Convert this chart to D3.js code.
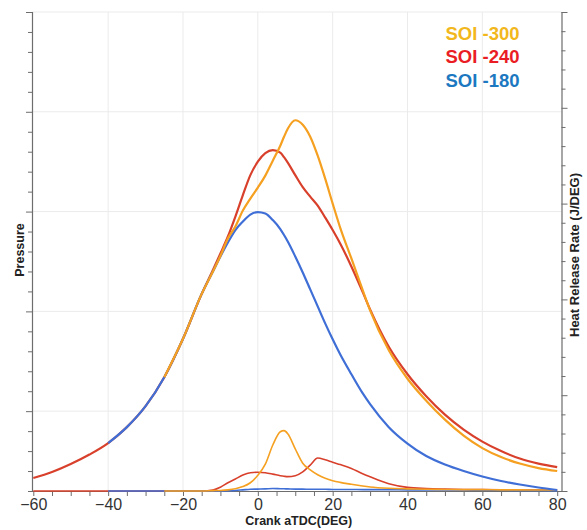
<!DOCTYPE html>
<html><head><meta charset="utf-8">
<script src="https://cdn.jsdelivr.net/npm/d3@7"></script>
<style>body{margin:0;background:#fff}svg{display:block}text{font-family:Arial,"Liberation Sans",sans-serif}</style>
</head><body><svg id="c" width="587" height="530"></svg>
<script>
// crank angle (deg aTDC)
const deg = [-60,-55,-50,-45,-40,-35,-30,-25,-20,-15,-12,-10,-8,-6,-4,-2,0,2,4,6,7,8,10,12,14,16,18,20,22,25,28,30,35,40,45,50,55,60,65,70,75,80];
// Pressure (left axis)
const pSOI300 = [null,null,null,null,null,null,null,26.8,34.5,43.5,48,51.1,54.6,57,60.2,62.6,64.8,67.2,70.2,73.2,75,76.6,78.3,77.4,75,71.2,66.6,61.6,56.8,50.6,44.3,40.2,32.2,26.5,22.1,18.3,15.1,12.6,10.8,9.5,8.6,8];
const pSOI240 = [6.6,7.8,9.4,11.3,13.6,16.8,21,26.8,34.5,43.5,48.3,51.6,55,59,63.3,67.3,70,71.7,72.3,71.8,70.9,69.8,67.3,64.9,63,61.2,58.8,56.3,53.6,49,43.9,40.4,32.9,27.4,23,19.3,16.3,13.9,12,10.5,9.5,8.8];
const pSOI180 = [null,null,null,null,13.6,16.8,21,26.8,34.5,43.5,48,51,53.8,56.3,58,59.4,59.9,59.6,58.3,56.5,55.3,54,51,47.8,44.4,41,37.6,34.4,31.4,27.4,23.6,21.4,16.8,13.5,11,9.3,8,6.9,6,5.3,4.7,4.2];
// Heat release rate (right axis)
const hSOI300 = [null,null,null,null,null,null,null,0,0,0,0.2,0.3,0.6,1.2,2.3,4.3,8.2,14,24,30.9,31.5,29.9,22,14.5,11,8.5,6.7,5.4,4.5,3.5,2.6,2.1,1.4,1.1,0.9,0.8,0.7,0.7,0.6,0.6,0.5,0.5];
const hSOI240 = [0,0,0,0,0,0,0,0,0,0,0.5,2,4.3,6.3,8.3,9.5,9.8,9.5,8.8,8,7.7,7.5,8,10,13.5,17.2,16.3,15,13.8,11.8,9,7.4,3.8,1.9,1.3,1,0.8,0.7,0.6,0.5,0.5,0.5];
const hSOI180 = [null,null,null,null,0,0,0,0,0,0,0,0,0.1,0.3,0.6,0.9,1,1.1,1.3,1.2,1.15,1.1,1,1,0.9,0.9,0.9,0.8,0.8,0.8,0.7,0.7,0.7,0.6,0.6,0.5,0.5,0.4,0.4,0.3,0.3,0.2];
const seriesNames = ["SOI -300","SOI -240","SOI -180"];
const legendColors = ["#f2b71c","#ea1d24","#1c78c0"];
const lineColors = {"SOI -300":"#f5a020","SOI -240":"#d8402c","SOI -180":"#3f6fd6"};
const xTicks = [-60,-40,-20,0,20,40,60,80];

const svg = d3.select("#c");
const L=32, R=561.5, T=12, B=491;
const x = d3.scaleLinear().domain([-60.35,81.15]).range([L,R]);
const yP = d3.scaleLinear().domain([4,100]).range([B,T]);
const yH = d3.scaleLinear().domain([0,250]).range([B,T]);

// grid
const g = svg.append("g");
g.selectAll(".vg").data([-40,-20,0,20,40,60]).enter().append("line")
 .attr("x1",d=>x(d)).attr("x2",d=>x(d)).attr("y1",T).attr("y2",B)
 .attr("stroke","#ebebeb").attr("stroke-width",1);
g.selectAll(".hg").data([20,40,60,80,100]).enter().append("line")
 .attr("x1",L).attr("x2",R).attr("y1",d=>yP(d)).attr("y2",d=>yP(d))
 .attr("stroke","#ebebeb").attr("stroke-width",1);

// axes
const axCol="#6d6d6d";
function styleAxis(sel){sel.select(".domain").attr("stroke",axCol).attr("stroke-width",1.2);sel.selectAll(".tick line").attr("stroke",axCol);}
const xMinor = d3.range(-60,81,5);
const xa = svg.append("g").attr("transform",`translate(0,${B})`)
 .call(d3.axisBottom(x).tickValues(xMinor).tickSize(5).tickSizeOuter(0)
 .tickFormat(d=>xTicks.includes(d)?d3.format("")(d):""));
styleAxis(xa);
xa.selectAll(".tick text").attr("font-size",16).attr("fill","#333").attr("dy","0.95em").attr("y",4);

const la = svg.append("g").attr("transform",`translate(${L},0)`)
 .call(d3.axisLeft(yP).tickValues(d3.range(4,101,4)).tickSizeOuter(0)
 .tickSize(4).tickFormat(""));
styleAxis(la);
la.selectAll(".tick line").attr("x2",d=>d%20===0?-6:-4);

const ra = svg.append("g").attr("transform",`translate(${R},0)`)
 .call(d3.axisRight(yH).tickValues(d3.range(0,251,10)).tickSizeOuter(0)
 .tickSize(4).tickFormat(""));
styleAxis(ra);
ra.selectAll(".tick line").attr("x2",d=>d%50===0?6:4);

// lines
const clip = svg.append("clipPath").attr("id","pc").append("rect")
 .attr("x",L).attr("y",T).attr("width",R-L).attr("height",B-T+1);
const plot = svg.append("g").attr("clip-path","url(#pc)");
function draw(vals, scale, color, w){
  const data = deg.map((d,i)=>[d,vals[i]]).filter(p=>p[1]!==null);
  const line = d3.line().x(p=>x(p[0])).y(p=>scale(p[1])).curve(d3.curveMonotoneX);
  plot.append("path").datum(data).attr("d",line).attr("fill","none")
   .attr("stroke",color).attr("stroke-width",w).attr("stroke-linejoin","round");
}
const pSeries = [pSOI240,pSOI180,pSOI300];
const hSeries = [hSOI240,hSOI180,hSOI300];
const order = ["SOI -240","SOI -180","SOI -300"];
order.forEach((n,i)=>draw(hSeries[i],yH,lineColors[n],1.6));
order.forEach((n,i)=>draw(pSeries[i],yP,lineColors[n],2.2));

// legend
seriesNames.forEach((n,i)=>{
  svg.append("text").attr("x",445.5).attr("y",40+i*23.3).text(n)
   .attr("font-size",18.5).attr("font-weight","bold").attr("fill",legendColors[i]);
});

// titles
svg.append("text").attr("x",(L+R)/2+2).attr("y",525).attr("text-anchor","middle")
 .attr("font-size",12.5).attr("font-weight","bold").attr("fill","#222").text("Crank aTDC(DEG)");
svg.append("text").attr("transform","translate(24,250) rotate(-90)").attr("text-anchor","middle")
 .attr("font-size",12.5).attr("font-weight","bold").attr("fill","#222").text("Pressure");
svg.append("text").attr("transform","translate(579,255) rotate(-90)").attr("text-anchor","middle")
 .attr("font-size",13).attr("font-weight","bold").attr("fill","#222").text("Heat Release Rate (J/DEG)");
</script></body></html>
